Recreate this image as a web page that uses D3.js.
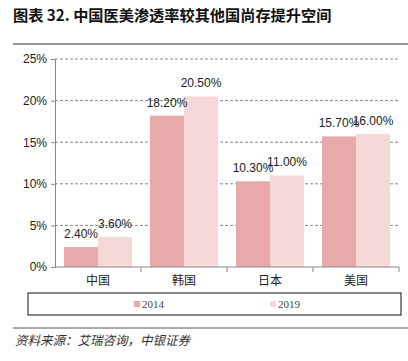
<!DOCTYPE html>
<html>
<head>
<meta charset="utf-8">
<script src="https://cdn.jsdelivr.net/npm/d3@7"></script>
<style>
  body { margin: 0; background: #fff; }
  svg { display: block; }
</style>
</head>
<body>
<svg id="chart"></svg>
<script>
var countries = ["中国", "韩国", "日本", "美国"];
var years = ["2014", "2019"];
var rate2014 = [2.4, 18.2, 10.3, 15.7];
var rate2019 = [3.6, 20.5, 11.0, 16.0];
var yTicks = [0, 5, 10, 15, 20, 25];

var colors = { "2014": "#e7a9a9", "2019": "#f7d8d8" };

var W = 408, H = 361;
var svg = d3.select("#chart").attr("width", W).attr("height", H);

// title + rule
svg.append("text")
    .attr("x", 13).attr("y", 21)
    .attr("font-family", "'Noto Sans CJK SC', 'Liberation Sans', sans-serif")
    .attr("font-weight", "bold")
    .attr("font-size", 15.2)
    .attr("fill", "#111")
    .text("图表 32. 中国医美渗透率较其他国尚存提升空间");
svg.append("line")
    .attr("x1", 13).attr("x2", 408).attr("y1", 44).attr("y2", 44)
    .attr("stroke", "#777").attr("stroke-width", 1.5);

var margin = { top: 59, left: 55, right: 9, bottom: 94 },
    width = W - margin.left - margin.right,
    height = H - margin.top - margin.bottom;

var g = svg.append("g").attr("transform", "translate(" + margin.left + "," + margin.top + ")");

var x0 = d3.scaleBand().domain(countries).range([0, width]).paddingInner(0).paddingOuter(0);
var x1 = d3.scaleBand().domain(years).range([9, x0.bandwidth() - 9]);
var y = d3.scaleLinear().domain([0, 25]).range([height, 0]);

// grid
g.selectAll(".grid").data(yTicks.filter(function (d) { return d > 0; }))
    .enter().append("line")
    .attr("x1", 0).attr("x2", width)
    .attr("y1", function (d) { return y(d); })
    .attr("y2", function (d) { return y(d); })
    .attr("stroke", "#888")
    .attr("stroke-dasharray", "3,2");

// bars
var data = countries.map(function (c, i) {
    return { country: c, values: [
        { year: "2014", value: rate2014[i] },
        { year: "2019", value: rate2019[i] }
    ] };
});

var groups = g.selectAll(".grp").data(data).enter().append("g")
    .attr("transform", function (d) { return "translate(" + x0(d.country) + ",0)"; });

groups.selectAll("rect").data(function (d) { return d.values; })
    .enter().append("rect")
    .attr("x", function (d) { return x1(d.year); })
    .attr("width", x1.bandwidth())
    .attr("y", function (d) { return y(d.value); })
    .attr("height", function (d) { return height - y(d.value); })
    .attr("fill", function (d) { return colors[d.year]; });

groups.selectAll(".lbl").data(function (d) { return d.values; })
    .enter().append("text")
    .attr("x", function (d) { return x1(d.year) + x1.bandwidth() / 2; })
    .attr("y", function (d) { return y(d.value) - 9; })
    .attr("text-anchor", "middle")
    .attr("font-family", "'Liberation Sans', Arial, sans-serif")
    .attr("font-size", 12)
    .attr("fill", "#222")
    .text(function (d) { return d.value.toFixed(2) + "%"; });

// y axis
var yAxis = d3.axisLeft(y).tickValues(yTicks).tickSize(4).tickFormat(function (d) { return d + "%"; });
var ya = g.append("g").call(yAxis);
ya.select(".domain").attr("stroke", "#888");
ya.selectAll(".tick line").attr("stroke", "#888");
ya.selectAll("text")
    .attr("x", -8)
    .attr("font-family", "'Liberation Sans', Arial, sans-serif")
    .attr("font-size", 12)
    .attr("fill", "#222");

// x axis
var xa = g.append("g").attr("transform", "translate(0," + height + ")");
xa.append("line").attr("x1", 0).attr("x2", width).attr("stroke", "#888");
xa.selectAll(".xt").data(countries).enter().append("line")
    .attr("x1", function (d) { return x0(d) + x0.bandwidth(); })
    .attr("x2", function (d) { return x0(d) + x0.bandwidth(); })
    .attr("y1", 0).attr("y2", 5)
    .attr("stroke", "#888");
xa.selectAll(".xl").data(countries).enter().append("text")
    .attr("x", function (d) { return x0(d) + x0.bandwidth() / 2; })
    .attr("y", 18)
    .attr("text-anchor", "middle")
    .attr("font-family", "'Noto Sans CJK SC', sans-serif")
    .attr("font-size", 12)
    .attr("fill", "#222")
    .text(function (d) { return d; });

// legend
svg.append("rect")
    .attr("x", 28).attr("y", 293).attr("width", 373).attr("height", 22)
    .attr("fill", "none").attr("stroke", "#111").attr("stroke-width", 1);
var legX = { "2014": 134, "2019": 270 };
years.forEach(function (yr) {
    svg.append("rect")
        .attr("x", legX[yr]).attr("y", 301).attr("width", 6).attr("height", 6)
        .attr("fill", colors[yr]);
    svg.append("text")
        .attr("x", legX[yr] + 8).attr("y", 308)
        .attr("font-family", "'Liberation Serif', 'Times New Roman', serif")
        .attr("font-size", 11)
        .attr("fill", "#444")
        .text(yr);
});

// footer
svg.append("line")
    .attr("x1", 13).attr("x2", 408).attr("y1", 328).attr("y2", 328)
    .attr("stroke", "#555").attr("stroke-width", 1);
svg.append("text")
    .attr("x", 15).attr("y", 345)
    .attr("font-family", "'Noto Sans CJK SC', sans-serif")
    .attr("font-style", "italic")
    .attr("font-size", 12.5)
    .attr("fill", "#333")
    .text("资料来源：艾瑞咨询，中银证券");
</script>
</body>
</html>
